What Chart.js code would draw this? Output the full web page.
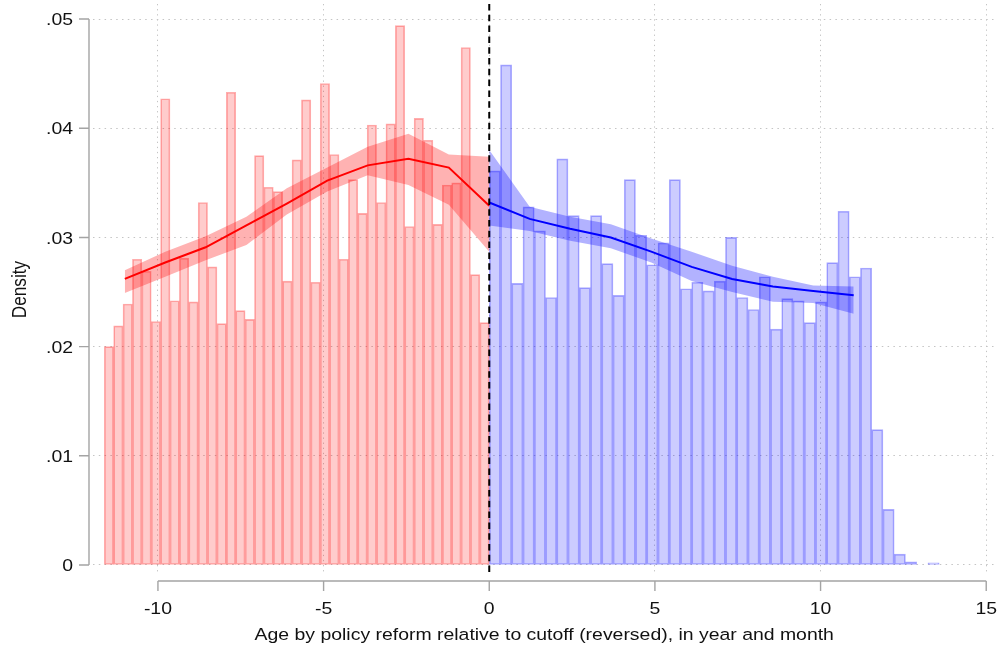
<!DOCTYPE html>
<html>
<head>
<meta charset="utf-8">
<script src="https://cdn.jsdelivr.net/npm/chart.js@4.4.1/dist/chart.umd.min.js"></script>
<style>
  html, body { margin: 0; padding: 0; background: #ffffff; }
  canvas { display: block; }
</style>
</head>
<body>
<canvas id="chart" width="1000" height="649"></canvas>
<script>
// Histogram bins left of the cutoff (red) and right of it (blue)
const redBinStart = -11.62;
const redBinWidth = 0.2834;
const redDensity = [
  0.0200, 0.0219, 0.0239, 0.0280, 0.0269, 0.0223, 0.0427, 0.0242, 0.0281, 0.0241,
  0.0332, 0.0273, 0.0221, 0.0433, 0.0233, 0.0225, 0.0375, 0.0346, 0.0342, 0.0260,
  0.0371, 0.0426, 0.0259, 0.0441, 0.0376, 0.0280, 0.0353, 0.0322, 0.0403, 0.0332,
  0.0404, 0.0494, 0.0310, 0.0409, 0.0389, 0.0312, 0.0348, 0.0350, 0.0474, 0.0266,
  0.0222
];
const blueBinStart = 0;
const blueBinWidth = 0.3395;
const blueDensity = [
  0.0361, 0.0458, 0.0258, 0.0328, 0.0306, 0.0245, 0.0372, 0.0320, 0.0254, 0.0320,
  0.0276, 0.0247, 0.0353, 0.0302, 0.0275, 0.0295, 0.0353, 0.0253, 0.0259, 0.0251,
  0.0260, 0.0300, 0.0245, 0.0234, 0.0264, 0.0216, 0.0244, 0.0242, 0.0222, 0.0241,
  0.0277, 0.0324, 0.0264, 0.0272, 0.0124, 0.0051, 0.0010, 0.0003, 0.0000, 0.0002
];

// Local polynomial fits with 95% confidence bands
const redFitX  = [-11, -9.78, -8.56, -7.33, -6.11, -4.89, -3.67, -2.44, -1.22, 0];
const redFitY  = [0.0262, 0.0277, 0.0291, 0.0311, 0.0331, 0.0352, 0.0366, 0.0372, 0.0364, 0.0329];
const redFitHi = [0.0270, 0.0287, 0.0301, 0.0319, 0.0345, 0.0364, 0.0383, 0.0395, 0.0376, 0.0374];
const redFitLo = [0.0249, 0.0264, 0.0279, 0.0293, 0.0321, 0.0342, 0.0357, 0.0348, 0.0330, 0.0287];

const blueFitX  = [0, 1.22, 2.44, 3.67, 4.89, 6.11, 7.33, 8.56, 9.78, 11];
const blueFitY  = [0.0332, 0.0317, 0.0308, 0.0300, 0.0287, 0.0273, 0.0262, 0.0255, 0.0251, 0.0247];
const blueFitHi = [0.0380, 0.0328, 0.0319, 0.0312, 0.0299, 0.0287, 0.0274, 0.0264, 0.0256, 0.0255];
const blueFitLo = [0.0311, 0.0306, 0.0297, 0.0290, 0.0277, 0.0260, 0.0250, 0.0241, 0.0240, 0.0230];

// Axes
const cutoff = 0;
const xMin = -11.96, xMax = 15.28;
const yMin = -0.000916, yMax = 0.05138;
const xTickValues = [-10, -5, 0, 5, 10, 15];
const xTickLabels = ['-10', '-5', '0', '5', '10', '15'];
const yTickValues = [0, 0.01, 0.02, 0.03, 0.04, 0.05];
const yTickLabels = ['0', '.01', '.02', '.03', '.04', '.05'];
const xTitle = 'Age by policy reform relative to cutoff (reversed), in year and month';
const yTitle = 'Density';

// Styling
const TEXT_FONT = "17.2px 'Liberation Sans', Arial, sans-serif";
const TEXT_STRETCH = 1.13;
const TEXT_COLOR = '#111111';
const AXIS_COLOR = '#a4a4a4';
const GRID_COLOR = '#c4c4c4';

const toPoints = (xs, ys) => xs.map((x, i) => ({ x: x, y: ys[i] }));
const binPoints = (start, width, values) =>
  values.map((v, i) => ({ x: start + (i + 0.5) * width, y: v }));

function drawText(ctx, text, x, y, align, vertical) {
  ctx.save();
  ctx.translate(x, y);
  ctx.scale(TEXT_STRETCH, 1);
  if (vertical) ctx.rotate(-Math.PI / 2);
  ctx.font = TEXT_FONT;
  ctx.fillStyle = TEXT_COLOR;
  ctx.textAlign = align;
  ctx.textBaseline = 'alphabetic';
  ctx.fillText(text, 0, 0);
  ctx.restore();
}

// Cutoff reference line, drawn over the data
const cutoffLine = {
  id: 'cutoffLine',
  afterDatasetsDraw(chart) {
    const { ctx, chartArea: a, scales: { x } } = chart;
    const px = x.getPixelForValue(cutoff);
    ctx.save();
    ctx.strokeStyle = '#000000';
    ctx.lineWidth = 2;
    ctx.setLineDash([6.5, 4.3]);
    ctx.beginPath();
    ctx.moveTo(px, a.top);
    ctx.lineTo(px, a.bottom);
    ctx.stroke();
    ctx.restore();
  }
};

// Detached axis lines, tick marks, tick labels and titles
const axisFrame = {
  id: 'axisFrame',
  afterDraw(chart) {
    const { ctx, chartArea: a, scales: { x, y } } = chart;
    const ax = a.left - 4;
    const ay = a.bottom + 6;
    const tick = 10;

    ctx.save();
    ctx.strokeStyle = AXIS_COLOR;
    ctx.lineWidth = 1.4;
    ctx.beginPath();
    ctx.moveTo(ax, y.getPixelForValue(yTickValues[0]));
    ctx.lineTo(ax, y.getPixelForValue(yTickValues[yTickValues.length - 1]));
    yTickValues.forEach(v => {
      const py = y.getPixelForValue(v);
      ctx.moveTo(ax - tick, py);
      ctx.lineTo(ax, py);
    });
    ctx.moveTo(x.getPixelForValue(xTickValues[0]), ay);
    ctx.lineTo(x.getPixelForValue(xTickValues[xTickValues.length - 1]), ay);
    xTickValues.forEach(v => {
      const px = x.getPixelForValue(v);
      ctx.moveTo(px, ay);
      ctx.lineTo(px, ay + tick);
    });
    ctx.stroke();
    ctx.restore();

    yTickValues.forEach((v, i) => {
      drawText(ctx, yTickLabels[i], ax - tick - 6, y.getPixelForValue(v) + 6.2, 'right', false);
    });
    xTickValues.forEach((v, i) => {
      drawText(ctx, xTickLabels[i], x.getPixelForValue(v), ay + tick + 23, 'center', false);
    });
    drawText(ctx, xTitle, (a.left + a.right) / 2, 640, 'center', false);
    drawText(ctx, yTitle, 26, (a.top + a.bottom) / 2, 'center', true);
  }
};

const hidden = 'rgba(0,0,0,0)';

new Chart(document.getElementById('chart'), {
  type: 'bar',
  data: {
    datasets: [
      { type: 'line', label: 'fit left', xAxisID: 'x', data: toPoints(redFitX, redFitY),
        borderColor: '#ff0000', borderWidth: 2, pointRadius: 0, tension: 0, fill: false, order: 0 },
      { type: 'line', label: 'fit right', xAxisID: 'x', data: toPoints(blueFitX, blueFitY),
        borderColor: '#0000ff', borderWidth: 2, pointRadius: 0, tension: 0, fill: false, order: 0 },
      { type: 'line', label: 'ci left upper', xAxisID: 'x', data: toPoints(redFitX, redFitHi),
        borderColor: hidden, borderWidth: 1, pointRadius: 0, tension: 0, fill: false, order: 1 },
      { type: 'line', label: 'ci left lower', xAxisID: 'x', data: toPoints(redFitX, redFitLo),
        borderColor: hidden, borderWidth: 1, pointRadius: 0, tension: 0, fill: '-1',
        backgroundColor: 'rgba(255,0,0,0.30)', order: 1 },
      { type: 'line', label: 'ci right upper', xAxisID: 'x', data: toPoints(blueFitX, blueFitHi),
        borderColor: hidden, borderWidth: 1, pointRadius: 0, tension: 0, fill: false, order: 1 },
      { type: 'line', label: 'ci right lower', xAxisID: 'x', data: toPoints(blueFitX, blueFitLo),
        borderColor: hidden, borderWidth: 1, pointRadius: 0, tension: 0, fill: '-1',
        backgroundColor: 'rgba(0,0,255,0.30)', order: 1 },
      { type: 'bar', label: 'density left', xAxisID: 'x',
        data: binPoints(redBinStart, redBinWidth, redDensity),
        backgroundColor: 'rgba(255,0,0,0.20)', borderColor: 'rgba(255,0,0,0.32)',
        borderWidth: 1, borderSkipped: false, barPercentage: 1, categoryPercentage: 1,
        grouped: false, order: 2 },
      { type: 'bar', label: 'density right', xAxisID: 'xb',
        data: binPoints(blueBinStart, blueBinWidth, blueDensity),
        backgroundColor: 'rgba(0,0,255,0.20)', borderColor: 'rgba(0,0,255,0.32)',
        borderWidth: 1, borderSkipped: false, barPercentage: 1, categoryPercentage: 1,
        grouped: false, order: 2 }
    ]
  },
  options: {
    responsive: false,
    animation: false,
    events: [],
    devicePixelRatio: 1,
    layout: { padding: { left: 0, right: 4.5, top: 4, bottom: 0 } },
    plugins: { legend: { display: false }, tooltip: { enabled: false } },
    scales: {
      x: {
        type: 'linear', min: xMin, max: xMax, offset: false,
        afterBuildTicks: s => { s.ticks = xTickValues.map(v => ({ value: v })); },
        ticks: { display: false },
        grid: { color: GRID_COLOR, lineWidth: 1, drawTicks: false, offset: false },
        border: { display: false, dash: [1.3, 3.8] },
        afterFit: s => { s.height = 74; s.paddingLeft = 0; s.paddingRight = 0; }
      },
      xb: { type: 'linear', min: xMin, max: xMax, offset: false, display: false,
        grid: { offset: false } },
      y: {
        type: 'linear', min: yMin, max: yMax,
        afterBuildTicks: s => { s.ticks = yTickValues.map(v => ({ value: v })); },
        ticks: { display: false },
        grid: { color: GRID_COLOR, lineWidth: 1, drawTicks: false },
        border: { display: false, dash: [1.5, 4.3] },
        afterFit: s => { s.width = 93; s.paddingTop = 0; s.paddingBottom = 0; }
      }
    }
  },
  plugins: [cutoffLine, axisFrame]
});
</script>
</body>
</html>
